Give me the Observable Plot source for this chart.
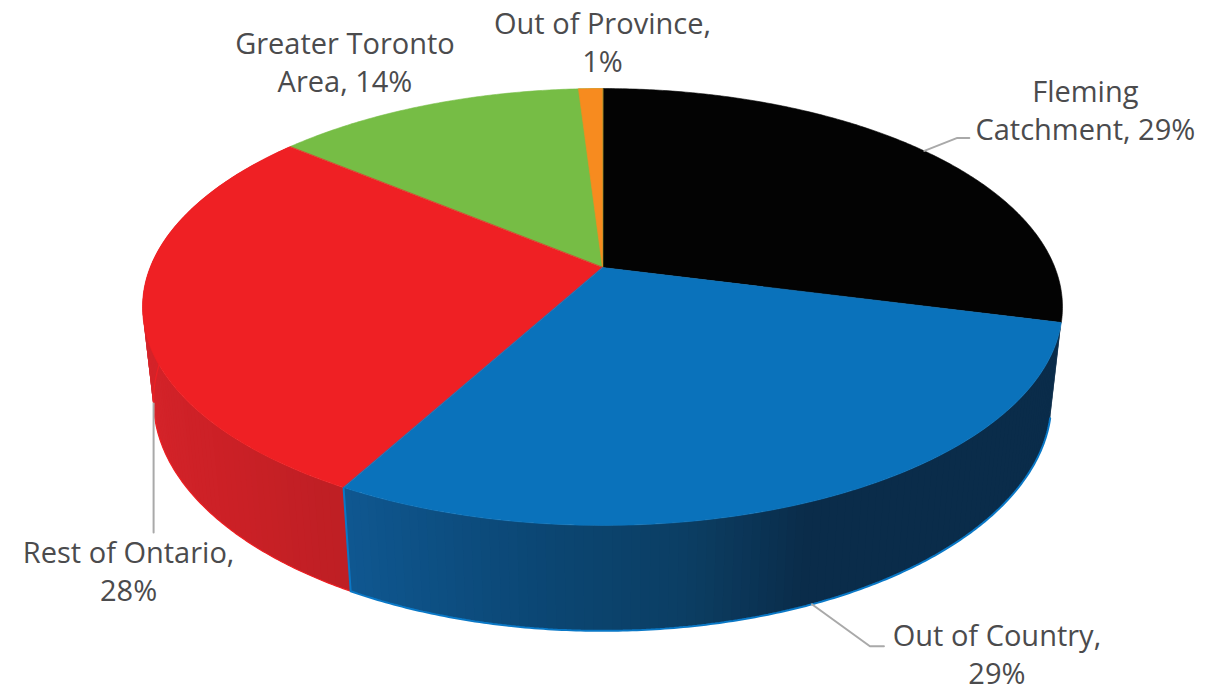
<!DOCTYPE html>
<html>
<head>
<meta charset="utf-8">
<script src="https://cdn.jsdelivr.net/npm/d3@7"></script>
<script src="https://cdn.jsdelivr.net/npm/@observablehq/plot@0.6"></script>
<style>
  html, body { margin: 0; padding: 0; background: #fff; }
  svg { display: block; }
</style>
</head>
<body>
<div id="chart"></div>
<script>
// Student origin shares, clockwise from the top of the pie.
const categories = ["Fleming Catchment", "Out of Country", "Rest of Ontario", "Greater Toronto Area", "Out of Province"];
const shares = [29, 29, 28, 14, 1];
const labels = ["Fleming\nCatchment, 29%", "Out of Country,\n29%", "Rest of Ontario,\n28%", "Greater Toronto\nArea, 14%", "Out of Province,\n1%"];
const topColors = ["#030303", "#0a72bb", "#ef2024", "#76bd45", "#f78b1f"];

// Perspective of the disc: unit circle -> plot units, with the hub at the origin.
const view = {a: 452.4, b: 211.3, p: 0.1807, depth: 0.0238, vanishY: 3993};
const rad = Math.PI / 180;

function project(deg, onFloor = false) {
  const t = deg * rad;
  const w = 1 + view.p * Math.cos(t);
  const x = view.a * Math.sin(t) / w;
  const y = -view.b * Math.cos(t) / w;
  if (!onFloor) return {x, y};
  const k = view.depth / (w + view.depth);
  return {x: x * (1 - k), y: y + k * (view.vanishY - y)};
}

// The rounded shares add up to 101, so each spans 3.6 degrees per percent
// and the last slice sits on top of its neighbour, closing the circle at 360.
const cumulative = d3.cumsum(shares);
const slices = shares.map((v, i) => {
  const to = Math.min(cumulative[i] * 3.6, 360);
  const from = to === 360 ? 360 - v * 3.6 : (cumulative[i] - v) * 3.6;
  return {i, name: categories[i], from, to, mid: (from + to) / 2};
});

function sweep(from, to, step = 0.5) {
  const n = Math.ceil((to - from) / step);
  return d3.range(n + 1).map(k => from + (to - from) * k / n);
}

// Side wall shading, sampled along the rim angle.
const wallShades = {
  1: d3.scaleLinear().domain([104, 157, 170, 185, 207]).range(["#0a2c4a", "#0a2c4a", "#0b3e63", "#0b4673", "#0f5790"]),
  2: d3.scaleLinear().domain([207, 225, 262]).range(["#bd1f24", "#cb2026", "#d9252b"])
};

// Each strip reaches over the next one so no seams show between them.
function wallStrips(slice) {
  const step = 1;
  const angles = sweep(slice.from, slice.to, step);
  return d3.pairs(angles).flatMap(([a, b], k) => {
    const fill = wallShades[slice.i]((a + b) / 2);
    const far = Math.min(b + step, slice.to);
    return [project(a), project(far), project(far, true), project(a, true)]
      .map(q => ({...q, id: k, fill}));
  });
}

function wallMarks(slice) {
  const strips = d3.groups(wallStrips(slice), d => d.id).reverse();
  return strips.map(([, pts]) => Plot.line(pts, {
    x: "x", y: "y", fill: pts[0].fill, curve: "linear-closed"
  }));
}

function rimMark(slice, color, width) {
  const pts = sweep(slice.from, slice.to).map(a => project(a, true));
  const side = slice.i === 1 ? project(slice.to) : project(slice.from);
  const path = slice.i === 1 ? [...pts, side] : [side, ...pts];
  return Plot.line(path, {x: "x", y: "y", stroke: color, strokeWidth: width, strokeLinejoin: "miter"});
}

function topMark(slice) {
  const rim = sweep(slice.from, slice.to).map(a => project(a));
  const color = topColors[slice.i];
  return Plot.line([{x: 0, y: 0}, ...rim], {
    x: "x", y: "y", fill: color, stroke: color, strokeWidth: 0.6, curve: "linear-closed"
  });
}

// Layout of the callouts relative to the point of the rim each one refers to.
const callouts = [
  {floor: false, leader: [[33, -13], [45, -13]], dx: 161, dy: -42},
  {floor: true, leader: [[58, 42], [72, 42]], dx: 185, dy: 49},
  {floor: true, leader: [[0, 129]], dx: -25, dy: 166},
  {floor: false, leader: [], dx: -92, dy: -42},
  {floor: false, leader: [], dx: 12, dy: -48}
];

const marks = [];
marks.push(...wallMarks(slices[2]), rimMark(slices[2], "#ee2024", 1.2));
marks.push(...wallMarks(slices[1]), rimMark(slices[1], "#0a78c6", 2));
for (const i of [0, 3, 4, 2, 1]) marks.push(topMark(slices[i]));

slices.forEach(slice => {
  const c = callouts[slice.i];
  const at = project(slice.mid, c.floor);
  if (c.leader.length) {
    const path = [at, ...c.leader.map(([dx, dy]) => ({x: at.x + dx, y: at.y + dy}))];
    marks.push(Plot.line(path, {x: "x", y: "y", stroke: "#a9a9a9", strokeWidth: 2, strokeLinejoin: "miter"}));
  }
  marks.push(Plot.text([at], {
    x: "x", y: "y", dx: c.dx, dy: c.dy, text: () => labels[slice.i],
    fontFamily: "Open Sans", fontWeight: 400, fontSize: 29, lineHeight: 1.31, fill: "#4b4b4d", textAnchor: "middle", lineAnchor: "middle"
  }));
});

const chart = Plot.plot({
  width: 1209,
  height: 691,
  margin: 0,
  style: {background: "#fff"},
  x: {axis: null, domain: [-602, 607]},
  y: {axis: null, domain: [-267, 424], range: [0, 691]},
  marks
});
document.getElementById("chart").append(chart);
</script>
</body>
</html>
